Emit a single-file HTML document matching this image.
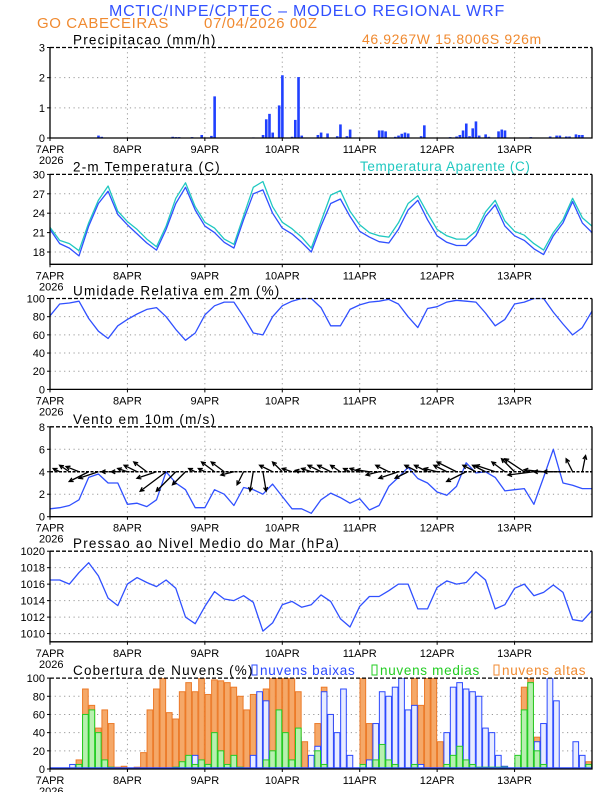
<!DOCTYPE html>
<html><head><meta charset="utf-8"><style>
html,body{margin:0;padding:0;background:#fff}
svg{display:block}
text{font-family:"Liberation Sans",sans-serif}
</style></head><body>
<svg id="chart" width="612" height="792" viewBox="0 0 612 792" xmlns="http://www.w3.org/2000/svg">
<text x="307" y="16" text-anchor="middle" font-size="16" letter-spacing="0.8" fill="#3050ff">MCTIC/INPE/CPTEC – MODELO REGIONAL WRF</text>
<text x="37" y="28" font-size="15" letter-spacing="0.6" fill="#f08a30">GO CABECEIRAS</text>
<text x="204" y="28" font-size="15" letter-spacing="0.6" fill="#f08a30">07/04/2026 00Z</text>
<text x="362" y="44" font-size="14" letter-spacing="0.6" fill="#f08a30">46.9267W 15.8006S 926m</text>
<g id="plots"></g>
</svg>
<script>
const hours3 = [];for(let i=0;i<=56;i++)hours3.push(i*3);
const dayLabels=["7APR","8APR","9APR","10APR","11APR","12APR","13APR"];
const precipHours=[15,16,38,39,40,44,47,50,51,63,66,67,68,69,71,72,75,76,77,78,83,84,86,89,90,92,93,102,103,104,107,108,109,110,111,115,116,124,126,127,128,129,130,131,132,133,135,136,139,140,141,149,155,157,158,160,161,163,164,165];
const precipVals=[0.08,0.04,0.04,0.03,0.03,0.03,0.1,0.07,1.38,0.02,0.1,0.62,0.8,0.18,1.08,2.08,0.04,0.6,2.02,0.08,0.1,0.18,0.15,0.06,0.45,0.06,0.28,0.25,0.25,0.22,0.04,0.08,0.14,0.18,0.15,0.06,0.42,0.03,0.05,0.1,0.25,0.48,0.06,0.32,0.55,0.08,0.12,0.04,0.22,0.28,0.25,0.03,0.05,0.08,0.08,0.05,0.05,0.12,0.1,0.1];
const temp2m=[21.5,19.3,18.6,17.4,22,25.5,27.4,23.8, 22.2,20.8,19.4,18.3,21.5,25.5,28,24.5, 22,21,19.5,18.6,23,27,27.6,24, 21.7,20.8,19.5,18,22,25.5,26.2,23.5, 21.2,20.3,19.6,19.4,21.5,24.5,26,23, 20.5,19.5,19,19,20.5,23.5,25.3,22, 20.5,19.8,18.5,17.6,20.5,22.5,25.8,22.5,21];
const tempApar=[21.8,19.8,19.3,18.2,22.5,26,28.2,24.3, 22.7,21.5,20,18.8,22,26.3,28.7,25, 22.6,21.7,20,19.2,23.6,28,28.9,25, 22.6,21.6,20.3,18.6,22.7,26.8,27.5,24.3, 22.2,21,20.5,20.3,22.5,25.5,26.7,24, 21.5,20.5,20,20,21.2,24.2,26,22.8, 21.2,20.6,19.3,18.3,21,23,26.3,23.3,22];
const rh=[81,94,95,97,78,64,56,70, 77,83,88,90,80,66,54,62, 82,92,96,96,80,62,60,80, 92,97,100,100,90,70,70,88, 93,96,97,99,94,80,68,89, 91,96,98,97,96,84,70,77, 94,96,100,100,85,72,60,68,86];
const windSpeed=[0.7,0.8,1.0,1.5,3.5,3.8,3.0,3.0, 1.1,1.2,0.9,1.5,4.0,3.0,2.4,0.8, 0.8,2.4,2.0,1.0,2.6,2.4,2.0,2.9, 1.8,0.7,0.7,0.3,1.5,2.1,1.7,1.2, 1.6,0.6,1.0,2.7,3.5,4.4,3.4,3.0, 2.2,1.9,2.7,4.8,3.9,4.0,3.5,2.3, 2.4,2.5,1.1,3.5,6.0,3.0,2.8,2.5,2.5];
const windU=[-1,-1,-1.5,-2,-3,-3,-1,-1, -1.5,-2,-2,-3,-4,-3,-2,-1, -1,-2,-2,-2,-1,-0.5,0.5,-2, -1.5,-1.5,-1,-1.5,-2,-2,-1.5,-1, -1.5,-2,-2,-2,-3,-2,-2,-2, -2,-2,-3,-3,-2,-2,-3,-2, -2,-3,-4,-3,-3,-3,-1,0.5];
const windV=[0.3,0.5,1,0.8,-1.5,-1,0,0, 0.5,1,1.5,-1,-3,-3,-2,0.5, 0.5,1.5,1.5,-0.5,-2,-3,-3,1, 1.5,0.5,0.2,0.5,1,1,1,0.5, 0.5,0.3,-0.5,1,-1,-1,1,1, 0.5,1,1.5,-1.5,1,1,1,1.5, 2,2,-0.5,0.3,0,0,2,2.5];
const pressure=[1016.5,1016.5,1016,1017.4,1018.6,1017,1014.3,1013.4, 1016,1016.8,1016.2,1015.7,1016.5,1015.5,1012,1011.2, 1013.3,1015.1,1014.2,1014,1014.6,1013.8,1010.3,1011.3, 1013.5,1013.9,1013.2,1013.5,1014.7,1013.9,1011.8,1010.8, 1013.3,1014.5,1014.5,1015.2,1016,1016,1013,1013, 1015.6,1016.4,1016,1016.2,1017.5,1016.5,1013,1013.5, 1015.5,1016,1014.6,1015,1015.9,1015,1011.7,1011.5,1012.8];
const cloudHigh=[0,0,0,0,10,88,70,45,65,50,2,3, 0,2,18,65,88,100,62,55,85,95,85,100, 82,98,97,95,90,80,65,82,62,88,100,100, 100,100,85,30,0,50,90,60,20,5,0,0, 100,50,2,0,0,0,0,45,100,70,100,100, 30,0,0,0,0,0,0,0,0,0,0,0, 0,90,100,35,10,0,0,0,0,0,0,8];
const cloudMed=[0,0,0,0,5,60,65,40,10,2,0,0, 0,0,0,0,0,0,0,2,8,15,5,10, 5,40,20,5,15,2,0,0,0,10,20,65, 40,10,45,0,0,20,5,0,0,0,0,0, 5,0,10,27,10,5,0,0,5,0,0,0, 0,5,15,25,10,5,2,2,2,2,2,0, 15,65,95,20,5,0,0,0,0,0,0,5];
const cloudLow=[0,0,0,5,0,0,0,0,0,0,0,0, 0,0,0,0,0,0,0,0,0,10,15,2, 5,5,2,3,0,0,0,15,85,75,10,5, 3,2,35,0,15,25,85,60,40,88,15,0, 0,10,50,85,80,90,100,65,70,5,0,0, 0,40,90,95,88,85,80,45,40,15,3,0, 5,20,45,30,50,100,75,0,0,30,15,3];

const NS="http://www.w3.org/2000/svg";
const X0=50,X1=592;
function xs(h){return X0+h*(X1-X0)/168;}
const plots=document.getElementById('plots');
function mk(tag,attrs,parent){const e=document.createElementNS(NS,tag);for(const k in attrs)e.setAttribute(k,attrs[k]);(parent||plots).appendChild(e);return e;}
let clipN=0;
function panel(name,top,bot,ymin,ymax,ticks,title){
  const g=mk('g',{});
  
  
  const ys=v=>bot-(v-ymin)/(ymax-ymin)*(bot-top);
  for(let d=1;d<7;d++){const l=mk('line',{x1:xs(d*24),x2:xs(d*24),y1:top,y2:bot,stroke:'#999','stroke-dasharray':'1.2,3.5','stroke-width':1},g);
    }
  ticks.forEach(t=>{
    if(t>ymin&&t<ymax){const l=mk('line',{x1:X0,x2:X1,y1:ys(t),y2:ys(t),stroke:'#999','stroke-dasharray':'1.2,3.5','stroke-width':1},g);
      }
    const tx=mk('text',{x:45,y:ys(t)+4,'text-anchor':'end','font-size':11},g);tx.textContent=t;
    
    mk('line',{x1:X0-3,x2:X0,y1:ys(t),y2:ys(t),stroke:'#000'},g);
  });
  dayLabels.forEach((s,d)=>{const tx=mk('text',{x:xs(d*24),y:bot+15,'text-anchor':'middle','font-size':11},g);tx.textContent=s;
    
    mk('line',{x1:xs(d*24),x2:xs(d*24),y1:bot,y2:bot+3,stroke:'#000'},g);});
  const yr=mk('text',{x:39,y:bot+26,'font-size':11},g);yr.textContent='2026';
  
  const tt=mk('text',{x:73,y:top-3,'font-size':13.5,'letter-spacing':1.2},g);tt.textContent=title;
  
  const id='c'+(clipN++);
  const cp=mk('clipPath',{id:id},g);mk('rect',{x:X0,y:top,width:X1-X0,height:bot-top},cp);
  const body=mk('g',{'clip-path':`url(#${id})`},g);
  return {g,body,ys,top,bot};
}
function border(p){
  mk('line',{x1:X0,x2:X1,y1:p.top,y2:p.top,stroke:'#000','stroke-dasharray':'4,2','stroke-width':1.3},p.g);
  mk('path',{d:`M${X0},${p.top}V${p.bot}H${X1}V${p.top}`,fill:'none',stroke:'#000','stroke-width':1.3},p.g);
}
function line(p,vals,color,name){
  const d=vals.map((v,i)=>(i?'L':'M')+xs(hours3[i]).toFixed(1)+','+p.ys(v).toFixed(1)).join('');
  const e=mk('path',{d:d,fill:'none',stroke:color,'stroke-width':1.3,'stroke-linejoin':'round'},p.body);
  
}
const p1=panel('precipitation-panel',47.5,138,0,3,[0,1,2,3],'Precipitacao (mm/h)');
precipHours.forEach((h,i)=>{const r=mk('rect',{x:xs(h)-1.2,y:p1.ys(precipVals[i]),width:2.6,height:p1.bot-p1.ys(precipVals[i]),fill:'#2040ff'},p1.body);
  });
border(p1);
const p2=panel('temperature-panel',174.4,264.3,16.1,30,[18,21,24,27,30],'2-m Temperatura (C)');
const at=mk('text',{x:360,y:171,'font-size':13.5,'letter-spacing':0.6,fill:'#20c8c0'},p2.g);at.textContent='Temperatura Aparente (C)';

line(p2,tempApar,'#20c8c0','apparent-temp-line');
line(p2,temp2m,'#3050ff','temp-2m-line');
border(p2);
const p3=panel('humidity-panel',298.5,389.4,0,100,[0,20,40,60,80,100],'Umidade Relativa em 2m (%)');
line(p3,rh,'#3050ff','humidity-line');border(p3);
const p4=panel('wind-panel',426.8,516.7,0,8,[0,2,4,6,8],'Vento em 10m (m/s)');
line(p4,windSpeed,'#3050ff','wind-speed-line');
mk('line',{x1:X0,x2:X1,y1:p4.ys(4),y2:p4.ys(4),stroke:'#000','stroke-width':1.5,'stroke-dasharray':'3,1.5'},p4.body);
windU.forEach((u,i)=>{const x=xs(hours3[i]),y=p4.ys(4);const k=6.5;
  const x2=x+u*k,y2=y-windV[i]*k;const len=Math.hypot(x2-x,y2-y)||1;const ux=(x2-x)/len,uy=(y2-y)/len;
  const a=mk('path',{d:`M${x},${y}L${x2},${y2}M${x2-ux*4-uy*2},${y2-uy*4+ux*2}L${x2},${y2}L${x2-ux*4+uy*2},${y2-uy*4-ux*2}`,stroke:'#000','stroke-width':1.3,fill:'none'},p4.body);
  });
border(p4);
const p5=panel('pressure-panel',551.2,641.8,1009,1020,[1010,1012,1014,1016,1018,1020],'Pressao ao Nivel Medio do Mar (hPa)');
line(p5,pressure,'#3050ff','pressure-line');border(p5);
const p6=panel('cloud-panel',678.1,769,0,100,[0,20,40,60,80,100],'Cobertura de Nuvens (%)');
function cbars(vals,fill,stroke,name){vals.forEach((v,i)=>{if(v<=0)return;const h=i*2;
  const r=mk('rect',{x:xs(h)+0.3,y:p6.ys(v),width:xs(2)-X0-0.8,height:p6.bot-p6.ys(v),fill:fill,stroke:stroke,'stroke-width':1},p6.body);
  });}
cbars(cloudHigh,'#f5a868','#ec7a28','high-cloud-bar');
cbars(cloudLow,'#e8ecff','#2a48ff','low-cloud-bar');
cbars(cloudMed,'#b8f0b0','#22cc22','medium-cloud-bar');
mk('line',{x1:X0,x2:X1,y1:p6.bot-1,y2:p6.bot-1,stroke:'#2a48ff','stroke-width':1.5},p6.body);
[['nuvens baixas','#2a48ff',252,'low-cloud-legend'],['nuvens medias','#22cc22',372,'medium-cloud-legend'],['nuvens altas','#f08a30',494,'high-cloud-legend']].forEach(l=>{
  const r=mk('rect',{x:l[2],y:665,width:5,height:10,fill:'none',stroke:l[1]},p6.g);
  const t=mk('text',{x:l[2]+8,y:675,'font-size':13.5,'letter-spacing':0.7,fill:l[1]},p6.g);t.textContent=l[0];
  });
border(p6);
</script>
</body></html>
